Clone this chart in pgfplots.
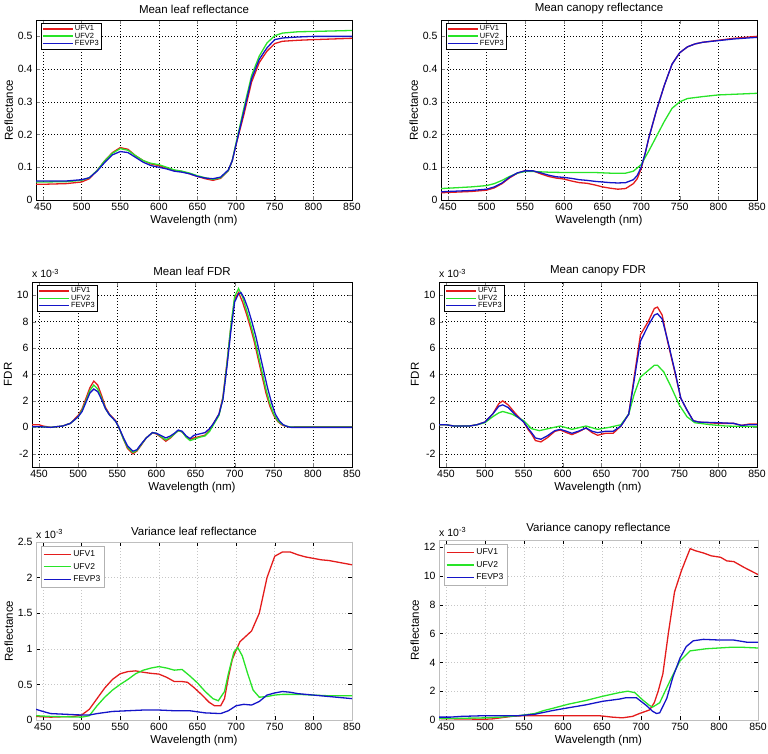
\documentclass[border=0pt]{standalone}
\usepackage{fontspec}
\setmainfont{Liberation Sans}
\usepackage{pgfplots}
\pgfplotsset{compat=1.18}
\definecolor{cr}{RGB}{228,28,28}
\definecolor{cg}{RGB}{40,228,40}
\definecolor{cb}{RGB}{20,20,200}
\pgfplotsset{
 base/.style={scale only axis, clip mode=individual, xmin=441, xmax=850, xtick={450,500,550,600,650,700,750,800,850},
  tick align=inside, tick pos=both, /pgf/number format/assume math mode=true,
  ticklabel style={font=\fontsize{10.5}{12}\selectfont},
  label style={font=\fontsize{11.5}{13}\selectfont},
  title style={font=\fontsize{11.5}{13}\selectfont, yshift=-3pt},
  xlabel={Wavelength (nm)}, xlabel style={yshift=3pt},
  ylabel style={yshift=-2pt},
  major tick length=4pt,
  grid=major,
  every axis plot/.append style={line width=1.3pt},
  legend cell align=left,
 },
 topp/.style={base, axis line style={line width=0.8pt},
  major grid style={black, dash pattern=on 1pt off 2pt, line width=0.5pt},
  legend image code/.code={\draw[##1, line width=1.4pt] (0pt,0pt) -- (30pt,0pt);},
  legend style={at={(0.015,0.985)}, anchor=north west, draw=black, line width=1.1pt,
   font=\fontsize{7.5}{7.5}\selectfont, inner sep=1pt, row sep=-2pt, nodes={inner sep=1.3pt}}},
 bott/.style={base, axis line style={gray!50, line width=0.6pt}, tick style={black},
  major grid style={gray!45, dash pattern=on 1pt off 2pt, line width=0.5pt},
  legend image code/.code={\draw[##1, line width=1.3pt] (0pt,0pt) -- (27pt,0pt);},
  legend style={at={(0.015,0.975)}, anchor=north west, draw=gray!60, line width=0.6pt,
   font=\fontsize{8.5}{9}\selectfont, inner sep=2pt, row sep=1pt, nodes={inner sep=2pt}}},
}
\newcommand{\expo}{\node[anchor=south west, inner sep=0pt, font=\fontsize{10.5}{12}\selectfont] at (rel axis cs:0,1.02) {x 10\textsuperscript{-3}};}
\begin{document}
\begin{tikzpicture}
\useasboundingbox (0pt,0pt) rectangle (768pt,754pt);
% ---------- P1
\begin{axis}[topp, at={(36pt,554pt)}, anchor=south west, width=316pt, height=180pt,
 ymin=0, ymax=0.55, ytick={0,0.1,0.2,0.3,0.4,0.5}, yticklabels={0,0.1,0.2,0.3,0.4,0.5},
 title={Mean leaf reflectance}, ylabel={Reflectance}]
\addplot[cr] coordinates {(441,0.048)(450,0.048)(480,0.05)(500,0.055)(510,0.065)(520,0.09)(530,0.12)(540,0.145)(550,0.16)(560,0.155)(570,0.135)(580,0.12)(590,0.11)(600,0.105)(610,0.098)(620,0.09)(630,0.087)(640,0.08)(650,0.072)(660,0.065)(670,0.06)(680,0.066)(690,0.09)(695,0.12)(700,0.17)(710,0.26)(720,0.36)(730,0.42)(740,0.455)(750,0.478)(760,0.485)(780,0.488)(800,0.49)(850,0.494)};
\addplot[cg] coordinates {(441,0.055)(450,0.055)(480,0.056)(500,0.06)(510,0.068)(520,0.09)(530,0.12)(540,0.143)(550,0.157)(560,0.152)(570,0.135)(580,0.12)(590,0.112)(600,0.108)(610,0.1)(620,0.092)(630,0.088)(640,0.082)(650,0.074)(660,0.068)(670,0.063)(680,0.068)(690,0.09)(695,0.12)(700,0.175)(710,0.28)(720,0.38)(730,0.44)(740,0.48)(750,0.502)(760,0.51)(780,0.514)(800,0.515)(850,0.518)};
\addplot[cb] coordinates {(441,0.058)(450,0.058)(480,0.058)(500,0.062)(510,0.068)(520,0.088)(530,0.115)(540,0.138)(550,0.148)(560,0.145)(570,0.13)(580,0.115)(590,0.105)(600,0.1)(610,0.095)(620,0.088)(630,0.085)(640,0.08)(650,0.072)(660,0.067)(670,0.065)(680,0.07)(690,0.092)(695,0.12)(700,0.17)(710,0.27)(720,0.37)(730,0.43)(740,0.465)(750,0.49)(760,0.495)(780,0.498)(800,0.5)(850,0.5)};
\legend{UFV1,UFV2,FEVP3}
\end{axis}
% ---------- P2
\begin{axis}[topp, at={(441pt,554pt)}, anchor=south west, width=316pt, height=180pt,
 ymin=0, ymax=0.55, ytick={0,0.1,0.2,0.3,0.4,0.5}, yticklabels={0,0.1,0.2,0.3,0.4,0.5},
 title={Mean canopy reflectance}, ylabel={Reflectance}]
\addplot[cr] coordinates {(441,0.022)(450,0.023)(480,0.026)(500,0.03)(510,0.037)(520,0.05)(530,0.068)(540,0.082)(550,0.09)(560,0.089)(570,0.08)(580,0.072)(590,0.067)(600,0.064)(610,0.058)(620,0.053)(630,0.051)(640,0.046)(650,0.04)(660,0.036)(670,0.033)(680,0.035)(690,0.05)(695,0.065)(700,0.095)(705,0.14)(710,0.19)(720,0.275)(730,0.35)(740,0.415)(750,0.45)(760,0.468)(770,0.477)(780,0.482)(800,0.488)(820,0.494)(850,0.5)};
\addplot[cg] coordinates {(441,0.035)(450,0.036)(480,0.04)(500,0.044)(510,0.05)(520,0.06)(530,0.072)(540,0.082)(550,0.087)(560,0.087)(580,0.085)(600,0.084)(620,0.084)(640,0.084)(660,0.082)(680,0.082)(690,0.088)(700,0.108)(710,0.15)(720,0.195)(730,0.24)(740,0.28)(750,0.3)(760,0.31)(780,0.316)(800,0.321)(850,0.326)};
\addplot[cb] coordinates {(441,0.025)(450,0.026)(480,0.029)(500,0.033)(510,0.04)(520,0.052)(530,0.07)(540,0.083)(550,0.089)(560,0.089)(570,0.083)(580,0.076)(590,0.071)(600,0.069)(610,0.066)(620,0.062)(630,0.06)(640,0.057)(650,0.055)(660,0.053)(670,0.052)(680,0.053)(690,0.062)(695,0.075)(700,0.1)(705,0.14)(710,0.19)(720,0.275)(730,0.35)(740,0.415)(750,0.45)(760,0.468)(770,0.477)(780,0.482)(800,0.487)(820,0.492)(850,0.497)};
\legend{UFV1,UFV2,FEVP3}
\end{axis}
% ---------- P3
\begin{axis}[topp, at={(32pt,287pt)}, anchor=south west, width=320pt, height=185pt,
 ymin=-3, ymax=11, ytick={-2,0,2,4,6,8,10},
 title={Mean leaf FDR}, ylabel={FDR}]
\addplot[cr] coordinates {(441,0.2)(450,0.2)(455,0.1)(465,0.0)(480,0.1)(490,0.3)(500,0.9)(505,1.4)(510,2.2)(515,3.0)(520,3.5)(525,3.2)(530,2.4)(535,1.5)(540,1.0)(548,0.5)(552,0.0)(558,-0.9)(563,-1.6)(570,-2.0)(575,-1.8)(580,-1.4)(587,-0.8)(595,-0.4)(600,-0.5)(607,-0.8)(612,-1.05)(618,-0.8)(623,-0.5)(628,-0.25)(633,-0.35)(638,-0.7)(643,-0.9)(648,-0.8)(655,-0.7)(662,-0.6)(668,-0.2)(673,0.3)(680,1.0)(685,2.3)(690,4.8)(695,7.5)(700,9.7)(705,10.2)(710,9.5)(715,8.6)(720,7.6)(725,6.5)(730,5.2)(735,3.9)(740,2.6)(745,1.6)(750,0.9)(755,0.45)(760,0.2)(765,0.08)(770,0.03)(800,0.05)(850,0.05)};
\addplot[cg] coordinates {(441,0.05)(450,0.05)(465,0.0)(480,0.1)(490,0.3)(500,0.8)(505,1.3)(510,2.0)(515,2.8)(520,3.2)(525,2.9)(530,2.2)(535,1.4)(540,0.95)(548,0.45)(552,0.0)(558,-0.9)(563,-1.5)(570,-1.9)(575,-1.75)(580,-1.35)(587,-0.8)(595,-0.4)(600,-0.45)(607,-0.75)(612,-0.95)(618,-0.75)(623,-0.5)(628,-0.25)(633,-0.35)(638,-0.75)(643,-1.0)(648,-0.9)(655,-0.75)(662,-0.65)(668,-0.3)(673,0.2)(680,0.9)(685,2.2)(690,4.7)(695,7.6)(700,9.9)(705,10.5)(710,9.9)(715,8.9)(720,7.9)(725,6.8)(730,5.5)(735,4.2)(740,2.9)(745,1.8)(750,1.0)(755,0.5)(760,0.25)(765,0.1)(772,0.02)(800,0.03)(850,0.02)};
\addplot[cb] coordinates {(441,0.05)(450,0.05)(465,0.0)(480,0.1)(490,0.3)(500,0.8)(505,1.2)(510,1.9)(515,2.6)(520,2.9)(525,2.7)(530,2.1)(535,1.4)(540,0.95)(548,0.45)(552,0.0)(558,-0.8)(563,-1.4)(570,-1.8)(575,-1.7)(580,-1.3)(587,-0.8)(595,-0.4)(600,-0.45)(607,-0.65)(612,-0.8)(618,-0.65)(623,-0.45)(628,-0.2)(633,-0.3)(638,-0.65)(643,-0.85)(648,-0.6)(655,-0.5)(662,-0.4)(668,-0.1)(673,0.3)(680,1.0)(685,2.1)(690,4.5)(695,7.2)(700,9.5)(705,10.1)(708,10.2)(712,9.8)(717,9.0)(722,8.0)(727,6.9)(732,5.6)(737,4.3)(742,3.0)(747,1.9)(752,1.0)(757,0.5)(762,0.2)(768,0.05)(772,0.0)(800,0.0)(850,0.0)};
\legend{UFV1,UFV2,FEVP3}
\expo
\end{axis}
% ---------- P4
\begin{axis}[topp, at={(439pt,287pt)}, anchor=south west, width=318pt, height=185pt,
 ymin=-3, ymax=11, ytick={-2,0,2,4,6,8,10},
 title={Mean canopy FDR}, ylabel={FDR}]
\addplot[cr] coordinates {(441,0.2)(450,0.2)(460,0.1)(480,0.1)(490,0.2)(500,0.4)(510,1.0)(518,1.8)(523,2.0)(530,1.7)(540,1.0)(550,0.4)(556,-0.2)(560,-0.5)(565,-1.0)(572,-1.1)(580,-0.8)(590,-0.3)(597,-0.2)(605,-0.4)(612,-0.55)(620,-0.35)(630,-0.05)(638,-0.4)(645,-0.6)(655,-0.45)(665,-0.45)(675,0.1)(685,1.0)(690,3.0)(695,5.0)(700,7.0)(710,8.0)(718,9.0)(722,9.1)(728,8.5)(735,6.5)(745,4.0)(752,2.2)(760,1.3)(768,0.5)(775,0.4)(800,0.3)(820,0.3)(830,0.15)(840,0.25)(850,0.25)};
\addplot[cg] coordinates {(441,0.2)(450,0.2)(460,0.1)(480,0.1)(490,0.2)(500,0.35)(510,0.8)(518,1.1)(523,1.2)(535,1.0)(550,0.5)(560,-0.1)(570,-0.25)(585,-0.05)(597,0.1)(612,-0.15)(630,0.1)(645,-0.15)(660,0.0)(675,0.2)(685,1.0)(692,2.5)(700,3.8)(710,4.3)(718,4.7)(722,4.7)(730,4.2)(740,3.0)(750,1.7)(760,0.8)(770,0.35)(790,0.2)(810,0.1)(850,0.05)};
\addplot[cb] coordinates {(441,0.2)(450,0.2)(460,0.1)(480,0.1)(490,0.2)(500,0.4)(510,1.0)(518,1.6)(523,1.7)(530,1.5)(540,0.9)(550,0.4)(556,-0.1)(560,-0.4)(565,-0.8)(572,-0.9)(580,-0.65)(590,-0.25)(597,-0.15)(605,-0.3)(612,-0.45)(620,-0.3)(630,-0.05)(638,-0.3)(645,-0.4)(655,-0.3)(665,-0.3)(675,0.1)(685,1.0)(690,2.8)(695,4.7)(700,6.5)(710,7.7)(718,8.5)(722,8.6)(728,8.2)(735,6.6)(745,4.1)(752,2.2)(760,1.3)(768,0.5)(775,0.4)(800,0.35)(820,0.3)(830,0.15)(840,0.2)(850,0.2)};
\legend{UFV1,UFV2,FEVP3}
\expo
\end{axis}
% ---------- P5
\begin{axis}[bott, at={(36pt,34pt)}, anchor=south west, width=316pt, height=178pt,
 ymin=0, ymax=2.5, ytick={0,0.5,1,1.5,2,2.5}, yticklabels={0,0.5,1,1.5,2,2.5},
 title={Variance leaf reflectance}, ylabel={Reflectance}]
\addplot[cr] coordinates {(441,0.05)(460,0.04)(490,0.05)(500,0.07)(510,0.15)(520,0.3)(530,0.45)(540,0.57)(550,0.65)(560,0.68)(570,0.69)(580,0.67)(590,0.655)(600,0.645)(610,0.6)(620,0.54)(630,0.54)(637,0.53)(645,0.46)(655,0.36)(665,0.25)(672,0.2)(680,0.2)(685,0.3)(690,0.6)(695,0.85)(700,0.98)(705,1.1)(710,1.15)(720,1.25)(730,1.5)(740,2.0)(750,2.3)(760,2.36)(770,2.36)(780,2.32)(790,2.29)(800,2.27)(810,2.25)(820,2.24)(830,2.22)(840,2.2)(850,2.18)};
\addplot[cg] coordinates {(441,0.06)(460,0.05)(500,0.04)(510,0.06)(520,0.2)(530,0.32)(540,0.42)(550,0.5)(560,0.57)(570,0.65)(580,0.7)(590,0.73)(600,0.75)(610,0.73)(620,0.7)(630,0.71)(640,0.62)(650,0.52)(660,0.4)(670,0.3)(677,0.27)(685,0.4)(690,0.65)(697,0.95)(702,1.02)(708,0.9)(715,0.65)(722,0.42)(730,0.32)(740,0.33)(750,0.35)(760,0.36)(780,0.36)(800,0.35)(820,0.34)(850,0.34)};
\addplot[cb] coordinates {(441,0.15)(450,0.12)(460,0.09)(480,0.08)(500,0.07)(510,0.07)(520,0.09)(540,0.12)(560,0.13)(580,0.14)(600,0.14)(620,0.13)(640,0.13)(660,0.1)(680,0.09)(690,0.13)(700,0.2)(710,0.22)(720,0.21)(730,0.26)(740,0.35)(750,0.38)(760,0.4)(770,0.39)(780,0.37)(800,0.35)(820,0.33)(840,0.31)(850,0.3)};
\legend{UFV1,UFV2,FEVP3}
\expo
\end{axis}
% ---------- P6
\begin{axis}[bott, at={(439pt,34pt)}, anchor=south west, width=319pt, height=180pt,
 ymin=0, ymax=12.5, ytick={0,2,4,6,8,10,12},
 title={Variance canopy reflectance}, ylabel={Reflectance}]
\addplot[cr] coordinates {(441,0.1)(460,0.08)(500,0.05)(510,0.08)(520,0.15)(534,0.25)(550,0.3)(600,0.3)(646,0.3)(663,0.2)(676,0.15)(689,0.25)(698,0.45)(711,0.7)(717,1.2)(722,2.0)(728,3.2)(735,6.0)(743,8.9)(752,10.4)(763,11.9)(770,11.75)(780,11.6)(790,11.4)(802,11.3)(810,11.05)(819,11.0)(832,10.6)(850,10.1)};
\addplot[cg] coordinates {(441,0.1)(450,0.1)(500,0.15)(520,0.2)(543,0.3)(564,0.45)(575,0.65)(586,0.8)(607,1.1)(629,1.35)(651,1.65)(672,1.9)(683,2.0)(692,1.9)(702,1.4)(711,1.0)(715,0.9)(724,1.2)(737,2.7)(750,4.1)(763,4.8)(784,4.95)(800,5.0)(815,5.05)(830,5.05)(850,5.0)};
\addplot[cb] coordinates {(441,0.2)(456,0.2)(469,0.25)(500,0.3)(525,0.3)(543,0.3)(564,0.4)(586,0.65)(607,0.85)(629,1.05)(651,1.3)(672,1.45)(681,1.55)(694,1.55)(707,1.0)(715,0.6)(720,0.45)(724,0.5)(733,1.5)(741,3.0)(750,4.3)(758,5.1)(767,5.5)(780,5.6)(802,5.55)(819,5.55)(836,5.4)(850,5.4)};
\legend{UFV1,UFV2,FEVP3}
\expo
\end{axis}
\end{tikzpicture}
\end{document}
